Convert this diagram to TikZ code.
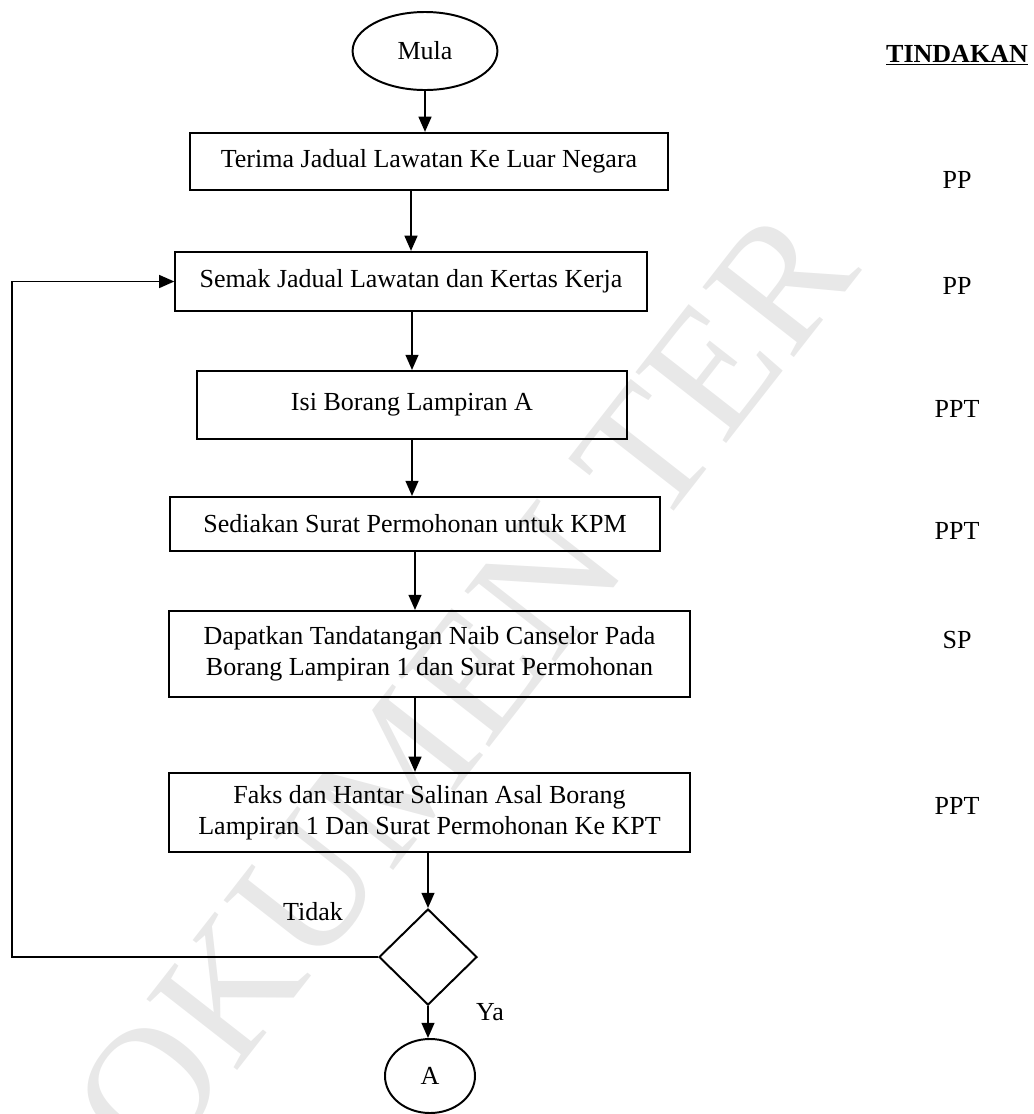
\documentclass[tikz,border=0pt]{standalone}
\usepackage{fontspec}
\setmainfont{Liberation Serif}
\usepackage{tikz}
\usetikzlibrary{shapes.geometric, arrows.meta, positioning}

\begin{document}
\begin{tikzpicture}[
    x=0.025cm, y=-0.025cm,
    font=\fontsize{18.5}{22}\selectfont,
    line width=1.4pt,
    >={Triangle[length=0.38cm, width=0.32cm]},
    process/.style={rectangle, draw, align=center, inner sep=2pt},
    startnode/.style={ellipse, draw, minimum width=3.62cm, minimum height=1.95cm},
    decision/.style={diamond, draw, aspect=1, inner sep=0pt, minimum width=2.45cm, minimum height=2.4cm},
    joint/.style={ellipse, draw, minimum width=2.25cm, minimum height=1.85cm},
    who/.style={anchor=center},
    watermark/.style={text=black!9, inner sep=0pt, font=\fontsize{125}{125}\selectfont}
]
  \useasboundingbox (0,0) rectangle (1034,1114);

  % faint stamp behind the chart
  \node[watermark, rotate=52, anchor=west] (cap) at (32,1240) {DOKUMEN TER};

  % Steps of the flow
  \node[startnode] (mula) at (425,51) {Mula};
  \node[process, minimum width=11.93cm, minimum height=1.43cm] (terima) at (429,161.5) {Terima Jadual Lawatan Ke Luar Negara};
  \node[process, minimum width=11.78cm, minimum height=1.48cm] (semak) at (411,281.5) {Semak Jadual Lawatan dan Kertas Kerja};
  \node[process, minimum width=10.75cm, minimum height=1.7cm] (isi) at (412,405) {Isi Borang Lampiran A};
  \node[process, minimum width=12.25cm, minimum height=1.35cm] (sedia) at (415,524) {Sediakan Surat Permohonan untuk KPM};
  \node[process, minimum width=13.03cm, minimum height=2.15cm] (dapat) at (429.5,654) {Dapatkan Tandatangan Naib Canselor Pada\\Borang Lampiran 1 dan Surat Permohonan};
  \node[process, minimum width=13.03cm, minimum height=1.98cm] (faks) at (429.5,812.5) {Faks dan Hantar Salinan Asal Borang\\Lampiran 1 Dan Surat Permohonan Ke KPT};
  \node[decision] (lulus) at (428,957) {};
  \node[joint] (sambung) at (430,1076) {A};
  \coordinate (balik) at (12,957);

  % Labels on the branches
  \node (tidak) at (313,912) {Tidak};
  \node (ya) at (490,1012) {Ya};

  % Column of who does each step
  \node[who] (tindakan) at (957,55) {\textbf{\underline{TINDAKAN}}};
  \node[who] (t1) at (957,180) {PP};
  \node[who] (t2) at (957,286) {PP};
  \node[who] (t3) at (957,409) {PPT};
  \node[who] (t4) at (957,531) {PPT};
  \node[who] (t5) at (957,640) {SP};
  \node[who] (t6) at (957,806) {PPT};

  % Arrows down the chart
  \draw[->] (mula.south) -- (mula.south |- terima.north);
  \draw[->] (semak.north |- terima.south) -- (semak.north);
  \draw[->] (isi.north |- semak.south) -- (isi.north);
  \draw[->] (isi.south) -- (isi.south |- sedia.north);
  \draw[->] (sedia.south) -- (sedia.south |- dapat.north);
  \draw[->] (dapat.south -| sedia.south) -- (faks.north -| sedia.south);
  \draw[->] (lulus.north |- faks.south) -- (lulus.north);
  \draw[->] (lulus.south) -- (lulus.south |- sambung.north);

  % back to checking
  \draw[->] (lulus.west) -- (balik) |- (semak.west);
\end{tikzpicture}
\end{document}
